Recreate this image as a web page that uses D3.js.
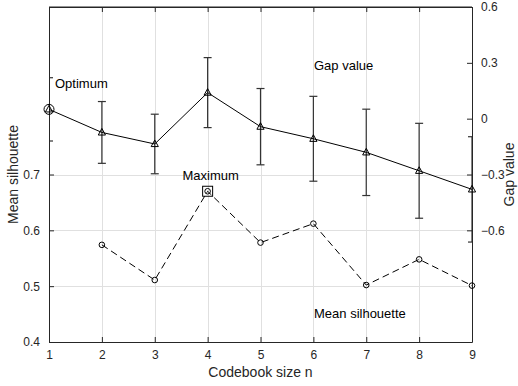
<!DOCTYPE html>
<html>
<head>
<meta charset="utf-8">
<script src="https://cdn.jsdelivr.net/npm/d3@7"></script>
<style>
  body { margin: 0; background: #fff; }
  svg { display: block; font-family: Arial, "Liberation Sans", sans-serif; }
</style>
</head>
<body>
<svg id="chart" width="518" height="386"></svg>
<script>
// codebook sizes
const sizes = [1, 2, 3, 4, 5, 6, 7, 8, 9]
// gap value (right axis) with half-width of error bars
const gapValues = [0.05, -0.074, -0.136, 0.14, -0.043, -0.108, -0.181, -0.28, -0.38]
const gapErrors = [0.17, 0.166, 0.16, 0.188, 0.205, 0.228, 0.232, 0.255, 0.283]
// mean silhouette (left axis), none for n = 1
const silSizes = [2, 3, 4, 5, 6, 7, 8, 9]
const silValues = [0.574, 0.511, 0.67, 0.578, 0.612, 0.502, 0.548, 0.501]
const leftTicks = [0.4, 0.5, 0.6, 0.7]
const rightTicks = [0.6, 0.3, 0, -0.3, -0.6]
const optimumN = 1
const maximumN = 4

const margin = {top: 7, right: 46, bottom: 44, left: 49}
const width = 518, height = 386
const svg = d3.select('#chart')
const ink = '#262626'

const x = d3.scaleLinear().domain([1, 9]).range([margin.left, width - margin.right])
const yL = d3.scaleLinear().domain([0.4, 1.0]).range([height - margin.bottom, margin.top])
const yR = d3.scaleLinear().domain([-1.2, 0.6]).range([height - margin.bottom, margin.top])

const x0 = x.range()[0], x1 = x.range()[1]
const yTop = margin.top, yBot = height - margin.bottom

svg.append('defs').append('clipPath').attr('id', 'plot')
  .append('rect').attr('x', x0).attr('y', yTop).attr('width', x1 - x0).attr('height', yBot - yTop)

// grid
const grid = svg.append('g').attr('stroke', '#e0e0e0').attr('stroke-width', 1)
grid.selectAll('line.v').data(sizes.slice(1, -1)).join('line')
  .attr('x1', d => Math.round(x(d)) + 0.5).attr('x2', d => Math.round(x(d)) + 0.5)
  .attr('y1', yTop).attr('y2', yBot)
grid.selectAll('line.h').data(leftTicks.slice(1)).join('line')
  .attr('x1', x0).attr('x2', x1)
  .attr('y1', d => Math.round(yL(d)) + 0.5).attr('y2', d => Math.round(yL(d)) + 0.5)

// gap value series
const gap = sizes.map((n, i) => ({n, v: gapValues[i], e: gapErrors[i]}))
const eb = svg.append('g').attr('clip-path', 'url(#plot)').attr('stroke', '#333').attr('stroke-width', 1.2)
eb.selectAll('line.bar').data(gap).join('line')
  .attr('x1', d => x(d.n)).attr('x2', d => x(d.n))
  .attr('y1', d => yR(d.v + d.e)).attr('y2', d => yR(d.v - d.e))
eb.selectAll('line.capt').data(gap).join('line')
  .attr('x1', d => x(d.n) - 4).attr('x2', d => x(d.n) + 4)
  .attr('y1', d => yR(d.v + d.e)).attr('y2', d => yR(d.v + d.e))
eb.selectAll('line.capb').data(gap).join('line')
  .attr('x1', d => x(d.n) - 4).attr('x2', d => x(d.n) + 4)
  .attr('y1', d => yR(d.v - d.e)).attr('y2', d => yR(d.v - d.e))

// axes
const fmt = d => d3.format('')(d)
svg.append('g').attr('transform', `translate(0,${yBot})`)
  .call(d3.axisBottom(x).tickValues(sizes).tickSizeInner(-5).tickSizeOuter(0).tickPadding(8))
svg.append('g').attr('transform', `translate(0,${yTop})`)
  .call(d3.axisTop(x).tickValues(sizes).tickSizeInner(-5).tickSizeOuter(0).tickFormat(''))
svg.append('g').attr('transform', `translate(${x0},0)`)
  .call(d3.axisLeft(yL).tickValues(leftTicks).tickSizeInner(-5).tickSizeOuter(0).tickPadding(9).tickFormat(fmt))
svg.append('g').attr('transform', `translate(${x1},0)`)
  .call(d3.axisRight(yR).tickValues(rightTicks).tickSizeInner(-5).tickSizeOuter(0).tickPadding(9).tickFormat(fmt))
svg.selectAll('.domain, .tick line').attr('stroke', ink)
svg.selectAll('.tick text').attr('fill', ink).attr('font-size', 12)
  .attr('font-family', 'Arial, "Liberation Sans", sans-serif')
svg.append('line').attr('x1', x0).attr('x2', x1).attr('y1', yTop).attr('y2', yTop).attr('stroke', ink)

svg.append('path').datum(gap)
  .attr('fill', 'none').attr('stroke', '#000').attr('stroke-width', 1)
  .attr('d', d3.line().x(d => x(d.n)).y(d => yR(d.v)))
svg.append('g').selectAll('path').data(gap).join('path')
  .attr('transform', d => `translate(${x(d.n)},${yR(d.v)})`)
  .attr('d', 'M0,-4L3.6,2.6L-3.6,2.6Z')
  .attr('fill', 'none').attr('stroke', '#000').attr('stroke-width', 1)

// mean silhouette series
const sil = silSizes.map((n, i) => ({n, v: silValues[i]}))
svg.append('path').datum(sil)
  .attr('fill', 'none').attr('stroke', '#000').attr('stroke-width', 1)
  .attr('stroke-dasharray', '7,4')
  .attr('d', d3.line().x(d => x(d.n)).y(d => yL(d.v)))
svg.append('g').selectAll('circle').data(sil).join('circle')
  .attr('cx', d => x(d.n)).attr('cy', d => yL(d.v)).attr('r', 2.8)
  .attr('fill', 'none').attr('stroke', '#000').attr('stroke-width', 1)

// highlight markers
const opt = gap.find(d => d.n === optimumN)
svg.append('circle').attr('cx', x(opt.n)).attr('cy', yR(opt.v)).attr('r', 5)
  .attr('fill', 'none').attr('stroke', '#000').attr('stroke-width', 1)
const mx = sil.find(d => d.n === maximumN)
svg.append('rect').attr('x', x(mx.n) - 5).attr('y', yL(mx.v) - 5).attr('width', 10).attr('height', 10)
  .attr('fill', 'none').attr('stroke', '#000').attr('stroke-width', 1)

// annotations
const notes = [
  {t: 'Optimum', x: 55, y: 87.5},
  {t: 'Gap value', x: 314, y: 69.5},
  {t: 'Maximum', x: 182.5, y: 179.5},
  {t: 'Mean silhouette', x: 314, y: 318}
]
svg.append('g').selectAll('text').data(notes).join('text')
  .attr('x', d => d.x).attr('y', d => d.y).attr('font-size', 13).attr('fill', '#000')
  .text(d => d.t)

// axis titles
svg.append('text').attr('x', (x0 + x1) / 2).attr('y', 377).attr('text-anchor', 'middle')
  .attr('font-size', 14).attr('fill', ink).text('Codebook size n')
svg.append('text').attr('transform', `translate(18,${(yTop + yBot) / 2}) rotate(-90)`)
  .attr('text-anchor', 'middle').attr('font-size', 14).attr('fill', ink).text('Mean silhouette')
svg.append('text').attr('transform', `translate(514,${(yTop + yBot) / 2}) rotate(-90)`)
  .attr('text-anchor', 'middle').attr('font-size', 14).attr('fill', ink).text('Gap value')
</script>
</body>
</html>
